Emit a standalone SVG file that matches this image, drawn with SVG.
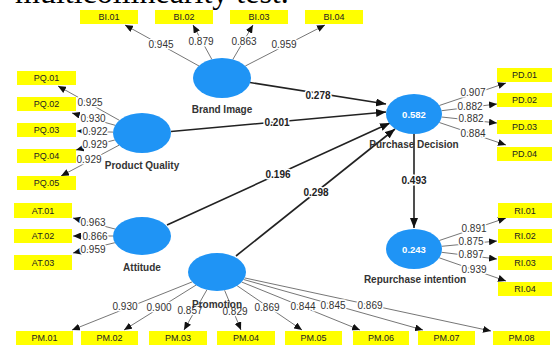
<svg xmlns="http://www.w3.org/2000/svg" width="552" height="345" viewBox="0 0 552 345">
<defs>
<style>
.box{fill:#FFFF00}
.bt{font-family:"Liberation Sans",Arial,sans-serif;font-size:9px;fill:#222;text-anchor:middle}
.lv{fill:#1F94F5}
.ln{font-family:"Liberation Sans",Arial,sans-serif;font-size:10px;font-weight:bold;fill:#333;text-anchor:middle}
.val{font-family:"Liberation Sans",Arial,sans-serif;font-size:9.5px;font-weight:bold;fill:#fff;text-anchor:middle}
.ld{stroke:#666;stroke-width:0.9;fill:none;marker-end:url(#a1)}
.st{stroke:#222;stroke-width:1.6;fill:none;marker-end:url(#a2)}
.lt{font-family:"Liberation Sans",Arial,sans-serif;font-size:10px;fill:#333;text-anchor:middle;stroke:#fff;stroke-width:3;paint-order:stroke;stroke-linejoin:round}
.pt{font-family:"Liberation Sans",Arial,sans-serif;font-size:10px;font-weight:bold;fill:#222;text-anchor:middle;stroke:#fff;stroke-width:3;paint-order:stroke;stroke-linejoin:round}
</style>
<marker id="a1" markerUnits="userSpaceOnUse" markerWidth="8" markerHeight="7" refX="8" refY="3.5" orient="auto"><path d="M0,0 L8,3.5 L0,7 z" fill="#111"/></marker>
<marker id="a2" markerUnits="userSpaceOnUse" markerWidth="10" markerHeight="8" refX="10" refY="4" orient="auto"><path d="M0,0 L10,4 L0,8 z" fill="#111"/></marker>
</defs>
<text x="15" y="2.5" font-family="'Liberation Serif','Times New Roman',serif" font-size="32" fill="#000">multicollinearity test.</text>

<g id="connectors">
<line class="ld" x1="199" y1="66" x2="125" y2="25"/>
<line class="ld" x1="211.8" y1="59.3" x2="193" y2="25"/>
<line class="ld" x1="232.8" y1="59.5" x2="253" y2="25"/>
<line class="ld" x1="245.3" y1="66" x2="325" y2="25"/>
<line class="ld" x1="119.5" y1="120.4" x2="58" y2="86"/>
<line class="ld" x1="115.2" y1="125.3" x2="72" y2="113"/>
<line class="ld" x1="113" y1="132.1" x2="77" y2="131"/>
<line class="ld" x1="114.8" y1="140" x2="76" y2="150"/>
<line class="ld" x1="119" y1="145.2" x2="61" y2="176"/>
<line class="ld" x1="439.3" y1="105.5" x2="506" y2="83"/>
<line class="ld" x1="441.6" y1="110.7" x2="497" y2="104"/>
<line class="ld" x1="441.6" y1="117" x2="497" y2="123"/>
<line class="ld" x1="439.3" y1="122.5" x2="506" y2="145"/>
<line class="ld" x1="115" y1="229" x2="73" y2="218"/>
<line class="ld" x1="113" y1="236" x2="73" y2="236"/>
<line class="ld" x1="114.9" y1="242.7" x2="73" y2="253"/>
<line class="ld" x1="439.3" y1="240.5" x2="506" y2="218"/>
<line class="ld" x1="441.7" y1="246.3" x2="497" y2="241"/>
<line class="ld" x1="441.6" y1="252.3" x2="497" y2="259"/>
<line class="ld" x1="439.2" y1="257.8" x2="506" y2="281"/>
<line class="ld" x1="192.2" y1="281.9" x2="72" y2="330"/>
<line class="ld" x1="196" y1="285.1" x2="124" y2="330"/>
<line class="ld" x1="206.9" y1="289.8" x2="184" y2="330"/>
<line class="ld" x1="224.6" y1="290.3" x2="241" y2="330"/>
<line class="ld" x1="237.1" y1="285.7" x2="302" y2="330"/>
<line class="ld" x1="241.6" y1="282" x2="360" y2="330"/>
<line class="ld" x1="243.6" y1="279.5" x2="423" y2="330"/>
<line class="ld" x1="244.5" y1="277.9" x2="491" y2="331"/>
<line class="st" x1="250" y1="82.5" x2="386" y2="104"/>
<line class="st" x1="171" y1="131.5" x2="386" y2="112"/>
<line class="st" x1="167" y1="225" x2="390" y2="123"/>
<line class="st" x1="236" y1="256" x2="395" y2="129"/>
<line class="st" x1="414" y1="134" x2="414" y2="228"/>
<text class="lt" x="161" y="48">0.945</text>
<text class="lt" x="201" y="45">0.879</text>
<text class="lt" x="244" y="45">0.863</text>
<text class="lt" x="284" y="48">0.959</text>
<text class="lt" x="90" y="106">0.925</text>
<text class="lt" x="93" y="122">0.930</text>
<text class="lt" x="95" y="135">0.922</text>
<text class="lt" x="95" y="148">0.929</text>
<text class="lt" x="89" y="163">0.929</text>
<text class="lt" x="473" y="96">0.907</text>
<text class="lt" x="470" y="110">0.882</text>
<text class="lt" x="471" y="122">0.882</text>
<text class="lt" x="473" y="137">0.884</text>
<text class="lt" x="93" y="226">0.963</text>
<text class="lt" x="95" y="240">0.866</text>
<text class="lt" x="93" y="253">0.959</text>
<text class="lt" x="474" y="232">0.891</text>
<text class="lt" x="471" y="245">0.875</text>
<text class="lt" x="471" y="258">0.897</text>
<text class="lt" x="474" y="273">0.939</text>
<text class="lt" x="125" y="310">0.930</text>
<text class="lt" x="159" y="311">0.900</text>
<text class="lt" x="190" y="314">0.857</text>
<text class="lt" x="235" y="315">0.829</text>
<text class="lt" x="267" y="311">0.869</text>
<text class="lt" x="303" y="310">0.844</text>
<text class="lt" x="333" y="309">0.845</text>
<text class="lt" x="370" y="309">0.869</text>
<text class="pt" x="318" y="99">0.278</text>
<text class="pt" x="277" y="126">0.201</text>
<text class="pt" x="278" y="178">0.196</text>
<text class="pt" x="316" y="196">0.298</text>
<text class="pt" x="414" y="184">0.493</text>
</g>

<g id="brand-image"><ellipse class="lv" cx="222" cy="78" rx="29" ry="20"/><text class="ln" x="222" y="113">Brand Image</text></g>
<g id="product-quality"><ellipse class="lv" cx="142" cy="133" rx="29" ry="20"/><text class="ln" x="142" y="169">Product Quality</text></g>
<g id="purchase-decision"><ellipse class="lv" cx="414" cy="114" rx="28" ry="20"/><text class="val" x="414" y="117.5">0.582</text><text class="ln" x="414" y="148">Purchase Decision</text></g>
<g id="attitude"><ellipse class="lv" cx="142" cy="236" rx="29" ry="19"/><text class="ln" x="142" y="271">Attitude</text></g>
<g id="repurchase-intention"><ellipse class="lv" cx="414" cy="249" rx="28" ry="20"/><text class="val" x="414" y="252.5">0.243</text><text class="ln" x="415" y="283">Repurchase intention</text></g>
<g id="promotion"><ellipse class="lv" cx="217" cy="272" rx="29" ry="19"/><text class="ln" x="217" y="308">Promotion</text></g>

<g id="BI01"><rect class="box" x="80" y="10" width="58" height="14"/><text class="bt" x="109" y="20.2">BI.01</text></g>
<g id="BI02"><rect class="box" x="155" y="10" width="58" height="14"/><text class="bt" x="184" y="20.2">BI.02</text></g>
<g id="BI03"><rect class="box" x="230" y="10" width="58" height="14"/><text class="bt" x="259" y="20.2">BI.03</text></g>
<g id="BI04"><rect class="box" x="305" y="10" width="58" height="14"/><text class="bt" x="334" y="20.2">BI.04</text></g>
<g id="PQ01"><rect class="box" x="17" y="71" width="59" height="14"/><text class="bt" x="46.5" y="81.2">PQ.01</text></g>
<g id="PQ02"><rect class="box" x="17" y="97" width="59" height="14"/><text class="bt" x="46.5" y="107.2">PQ.02</text></g>
<g id="PQ03"><rect class="box" x="17" y="123" width="59" height="14"/><text class="bt" x="46.5" y="133.2">PQ.03</text></g>
<g id="PQ04"><rect class="box" x="17" y="149" width="59" height="14"/><text class="bt" x="46.5" y="159.2">PQ.04</text></g>
<g id="PQ05"><rect class="box" x="17" y="176" width="59" height="14"/><text class="bt" x="46.5" y="186.2">PQ.05</text></g>
<g id="PD01"><rect class="box" x="497" y="68" width="55" height="14"/><text class="bt" x="524.5" y="78.2">PD.01</text></g>
<g id="PD02"><rect class="box" x="497" y="93" width="55" height="14"/><text class="bt" x="524.5" y="103.2">PD.02</text></g>
<g id="PD03"><rect class="box" x="497" y="120" width="55" height="14"/><text class="bt" x="524.5" y="130.2">PD.03</text></g>
<g id="PD04"><rect class="box" x="497" y="147" width="55" height="14"/><text class="bt" x="524.5" y="157.2">PD.04</text></g>
<g id="AT01"><rect class="box" x="14" y="203" width="58" height="15"/><text class="bt" x="43" y="213.7">AT.01</text></g>
<g id="AT02"><rect class="box" x="14" y="229" width="58" height="14"/><text class="bt" x="43" y="239.2">AT.02</text></g>
<g id="AT03"><rect class="box" x="14" y="255" width="58" height="15"/><text class="bt" x="43" y="265.7">AT.03</text></g>
<g id="RI01"><rect class="box" x="498" y="203" width="54" height="15"/><text class="bt" x="525" y="213.7">RI.01</text></g>
<g id="RI02"><rect class="box" x="498" y="229" width="54" height="14"/><text class="bt" x="525" y="239.2">RI.02</text></g>
<g id="RI03"><rect class="box" x="498" y="256" width="54" height="14"/><text class="bt" x="525" y="266.2">RI.03</text></g>
<g id="RI04"><rect class="box" x="498" y="282" width="54" height="14"/><text class="bt" x="525" y="292.2">RI.04</text></g>
<g id="PM01"><rect class="box" x="16" y="331" width="57" height="14"/><text class="bt" x="44.5" y="341.2">PM.01</text></g>
<g id="PM02"><rect class="box" x="81" y="331" width="57" height="14"/><text class="bt" x="109.5" y="341.2">PM.02</text></g>
<g id="PM03"><rect class="box" x="149" y="331" width="58" height="14"/><text class="bt" x="178" y="341.2">PM.03</text></g>
<g id="PM04"><rect class="box" x="217" y="331" width="58" height="14"/><text class="bt" x="246" y="341.2">PM.04</text></g>
<g id="PM05"><rect class="box" x="285" y="331" width="57" height="14"/><text class="bt" x="313.5" y="341.2">PM.05</text></g>
<g id="PM06"><rect class="box" x="353" y="331" width="56" height="14"/><text class="bt" x="381" y="341.2">PM.06</text></g>
<g id="PM07"><rect class="box" x="418" y="331" width="57" height="14"/><text class="bt" x="446.5" y="341.2">PM.07</text></g>
<g id="PM08"><rect class="box" x="493" y="331" width="57" height="14"/><text class="bt" x="521.5" y="341.2">PM.08</text></g>
</svg>
